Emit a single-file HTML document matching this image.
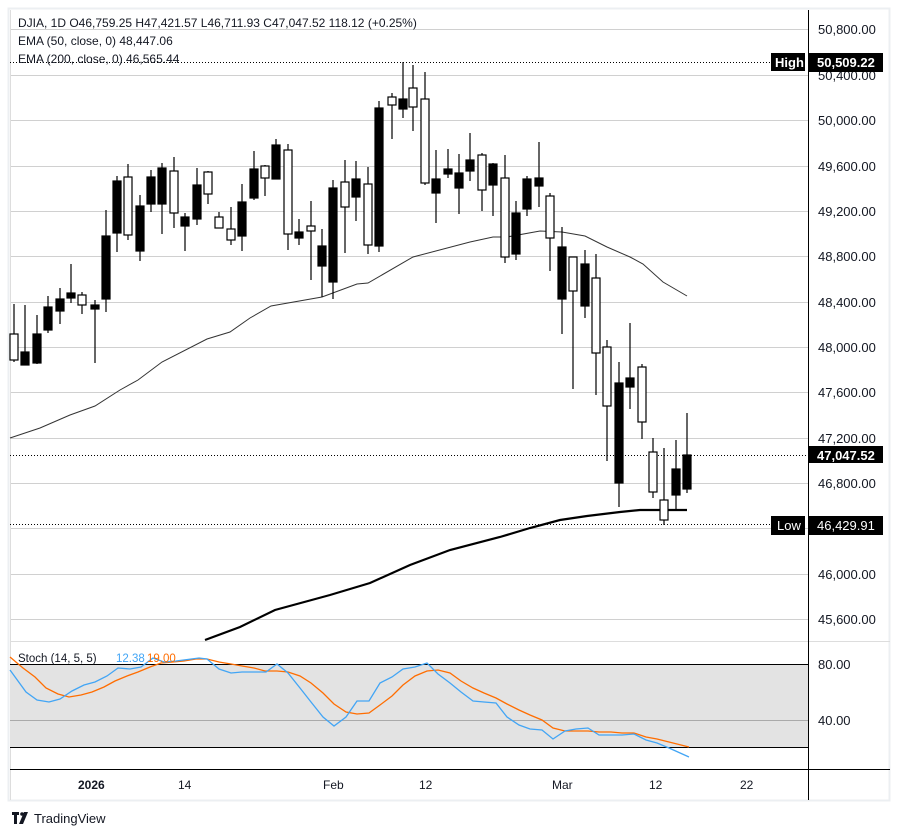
<!DOCTYPE html>
<html><head><meta charset="utf-8"><style>
body{margin:0;background:#fff;}
svg{display:block;font-family:"Liberation Sans",sans-serif;}
</style></head><body>
<svg width="899" height="836" viewBox="0 0 899 836" xmlns="http://www.w3.org/2000/svg">
<rect x="0" y="0" width="899" height="836" fill="#fff"/>
<rect x="8.5" y="8.5" width="881" height="792" fill="none" stroke="#eceff2" stroke-width="2"/>
<g stroke="#d0d0d0" stroke-width="1">
<line x1="10" x2="808" y1="29.5" y2="29.5"/><line x1="10" x2="808" y1="75.5" y2="75.5"/><line x1="10" x2="808" y1="120.5" y2="120.5"/><line x1="10" x2="808" y1="166.5" y2="166.5"/><line x1="10" x2="808" y1="211.5" y2="211.5"/><line x1="10" x2="808" y1="256.5" y2="256.5"/><line x1="10" x2="808" y1="302.5" y2="302.5"/><line x1="10" x2="808" y1="347.5" y2="347.5"/><line x1="10" x2="808" y1="392.5" y2="392.5"/><line x1="10" x2="808" y1="438.5" y2="438.5"/><line x1="10" x2="808" y1="483.5" y2="483.5"/><line x1="10" x2="808" y1="528.5" y2="528.5"/><line x1="10" x2="808" y1="574.5" y2="574.5"/><line x1="10" x2="808" y1="619.5" y2="619.5"/>
</g>
<line x1="10.5" x2="10.5" y1="10" y2="800" stroke="#ddd"/>
<g stroke="#000" stroke-dasharray="1,2" stroke-width="1">
<line x1="10" x2="770" y1="62.5" y2="62.5"/><line x1="10" x2="808" y1="455.5" y2="455.5"/><line x1="10" x2="770" y1="524.5" y2="524.5"/>
</g>
<polyline fill="none" stroke="#333" stroke-width="1" points="10,438 40,428 70,415 95,406 120,390 138,380 162,362 207,339 230,332 250,318 271,306 322,297 357,284 368,283 413,257 470,242 493,237 507,237 540,231 562,232 585,236 607,247 630,257 643,264 663,282 687,296"/>
<polyline fill="none" stroke="#000" stroke-width="2.2" points="205,640 240,627 275,610 330,595 370,583 410,565 450,550 500,537 530,528 560,520 587,516 620,512 640,510 660,510 687,510"/>
<g stroke="#000" stroke-width="1.2">
<line x1="14" x2="14" y1="304" y2="362"/><rect x="10" y="334" width="8" height="26" fill="#fff"/>
<line x1="25" x2="25" y1="305" y2="365"/><rect x="21" y="352" width="8" height="13" fill="#000"/>
<line x1="37" x2="37" y1="315" y2="364"/><rect x="33" y="334" width="8" height="29" fill="#000"/>
<line x1="48" x2="48" y1="296" y2="333"/><rect x="44" y="307" width="8" height="23" fill="#000"/>
<line x1="60" x2="60" y1="288" y2="324"/><rect x="56" y="299" width="8" height="12" fill="#000"/>
<line x1="71" x2="71" y1="264" y2="303"/><rect x="67" y="293" width="8" height="5" fill="#000"/>
<line x1="82" x2="82" y1="292" y2="314"/><rect x="78" y="295" width="8" height="10" fill="#fff"/>
<line x1="95" x2="95" y1="300" y2="363"/><rect x="91" y="305" width="8" height="4" fill="#000"/>
<line x1="106" x2="106" y1="210" y2="312"/><rect x="102" y="236" width="8" height="63" fill="#000"/>
<line x1="117" x2="117" y1="176" y2="252"/><rect x="113" y="181" width="8" height="52" fill="#000"/>
<line x1="128" x2="128" y1="164" y2="240"/><rect x="124" y="177" width="8" height="58" fill="#fff"/>
<line x1="140" x2="140" y1="195" y2="261"/><rect x="136" y="206" width="8" height="45" fill="#000"/>
<line x1="151" x2="151" y1="170" y2="212"/><rect x="147" y="177" width="8" height="27" fill="#000"/>
<line x1="162" x2="162" y1="163" y2="234"/><rect x="158" y="168" width="8" height="36" fill="#000"/>
<line x1="174" x2="174" y1="157" y2="228"/><rect x="170" y="171" width="8" height="42" fill="#fff"/>
<line x1="185" x2="185" y1="213" y2="251"/><rect x="181" y="217" width="8" height="9" fill="#000"/>
<line x1="197" x2="197" y1="168" y2="225"/><rect x="193" y="185" width="8" height="34" fill="#000"/>
<line x1="208" x2="208" y1="171" y2="204"/><rect x="204" y="172" width="8" height="22" fill="#fff"/>
<line x1="219" x2="219" y1="212" y2="228"/><rect x="215" y="217" width="8" height="11" fill="#fff"/>
<line x1="231" x2="231" y1="207" y2="245"/><rect x="227" y="229" width="8" height="11" fill="#fff"/>
<line x1="242" x2="242" y1="184" y2="251"/><rect x="238" y="202" width="8" height="34" fill="#000"/>
<line x1="254" x2="254" y1="151" y2="200"/><rect x="250" y="169" width="8" height="29" fill="#000"/>
<line x1="265" x2="265" y1="165" y2="196"/><rect x="261" y="166" width="8" height="12" fill="#fff"/>
<line x1="276" x2="276" y1="139" y2="179"/><rect x="272" y="145" width="8" height="34" fill="#000"/>
<line x1="288" x2="288" y1="144" y2="250"/><rect x="284" y="150" width="8" height="84" fill="#fff"/>
<line x1="299" x2="299" y1="219" y2="245"/><rect x="295" y="232" width="8" height="6" fill="#000"/>
<line x1="311" x2="311" y1="201" y2="280"/><rect x="307" y="226" width="8" height="5" fill="#fff"/>
<line x1="322" x2="322" y1="229" y2="297"/><rect x="318" y="246" width="8" height="20" fill="#000"/>
<line x1="333" x2="333" y1="180" y2="299"/><rect x="329" y="188" width="8" height="94" fill="#000"/>
<line x1="345" x2="345" y1="160" y2="253"/><rect x="341" y="182" width="8" height="25" fill="#fff"/>
<line x1="356" x2="356" y1="161" y2="221"/><rect x="352" y="179" width="8" height="18" fill="#000"/>
<line x1="368" x2="368" y1="167" y2="254"/><rect x="364" y="184" width="8" height="61" fill="#fff"/>
<line x1="379" x2="379" y1="101" y2="252"/><rect x="375" y="108" width="8" height="138" fill="#000"/>
<line x1="392" x2="392" y1="93" y2="139"/><rect x="388" y="97" width="8" height="8" fill="#fff"/>
<line x1="403" x2="403" y1="62" y2="118"/><rect x="399" y="99" width="8" height="10" fill="#000"/>
<line x1="413" x2="413" y1="65" y2="131"/><rect x="409" y="88" width="8" height="19" fill="#fff"/>
<line x1="425" x2="425" y1="72" y2="185"/><rect x="421" y="99" width="8" height="84" fill="#fff"/>
<line x1="436" x2="436" y1="150" y2="223"/><rect x="432" y="179" width="8" height="14" fill="#000"/>
<line x1="448" x2="448" y1="149" y2="178"/><rect x="444" y="169" width="8" height="5" fill="#000"/>
<line x1="459" x2="459" y1="154" y2="214"/><rect x="455" y="173" width="8" height="15" fill="#000"/>
<line x1="470" x2="470" y1="133" y2="181"/><rect x="466" y="160" width="8" height="11" fill="#000"/>
<line x1="482" x2="482" y1="153" y2="211"/><rect x="478" y="155" width="8" height="35" fill="#fff"/>
<line x1="493" x2="493" y1="163" y2="216"/><rect x="489" y="164" width="8" height="21" fill="#000"/>
<line x1="505" x2="505" y1="155" y2="263"/><rect x="501" y="178" width="8" height="79" fill="#fff"/>
<line x1="516" x2="516" y1="201" y2="260"/><rect x="512" y="213" width="8" height="41" fill="#000"/>
<line x1="527" x2="527" y1="176" y2="216"/><rect x="523" y="179" width="8" height="30" fill="#000"/>
<line x1="539" x2="539" y1="142" y2="207"/><rect x="535" y="178" width="8" height="8" fill="#000"/>
<line x1="550" x2="550" y1="193" y2="271"/><rect x="546" y="196" width="8" height="42" fill="#fff"/>
<line x1="562" x2="562" y1="227" y2="334"/><rect x="558" y="247" width="8" height="52" fill="#000"/>
<line x1="573" x2="573" y1="257" y2="389"/><rect x="569" y="257" width="8" height="34" fill="#fff"/>
<line x1="585" x2="585" y1="250" y2="318"/><rect x="581" y="264" width="8" height="42" fill="#000"/>
<line x1="596" x2="596" y1="254" y2="395"/><rect x="592" y="278" width="8" height="75" fill="#fff"/>
<line x1="607" x2="607" y1="340" y2="461"/><rect x="603" y="347" width="8" height="59" fill="#fff"/>
<line x1="619" x2="619" y1="362" y2="507"/><rect x="615" y="383" width="8" height="100" fill="#000"/>
<line x1="630" x2="630" y1="323" y2="409"/><rect x="626" y="378" width="8" height="9" fill="#000"/>
<line x1="642" x2="642" y1="364" y2="439"/><rect x="638" y="367" width="8" height="55" fill="#fff"/>
<line x1="653" x2="653" y1="438" y2="498"/><rect x="649" y="452" width="8" height="40" fill="#fff"/>
<line x1="664" x2="664" y1="448" y2="525"/><rect x="660" y="500" width="8" height="20" fill="#fff"/>
<line x1="676" x2="676" y1="440" y2="509"/><rect x="672" y="469" width="8" height="26" fill="#000"/>
<line x1="687" x2="687" y1="413" y2="493"/><rect x="683" y="455" width="8" height="34" fill="#000"/>
</g>
<line x1="10" x2="890" y1="641.5" y2="641.5" stroke="#ddd"/>
<rect x="10" y="664" width="798" height="83" fill="#e3e3e3"/>
<line x1="10" x2="808" y1="664.5" y2="664.5" stroke="#000"/>
<line x1="10" x2="808" y1="720.5" y2="720.5" stroke="#aaa"/>
<line x1="10" x2="808" y1="747.5" y2="747.5" stroke="#000"/>
<line x1="10" x2="890" y1="769.5" y2="769.5" stroke="#000"/>
<polyline fill="none" stroke="#ff6d00" stroke-width="1.3" points="10,657 23,668 35,677 46,688 58,694 69,697 81,695 92,692 104,687 115,681 127,676 138,672 150,667 161,663 173,662 184,661 196,659 207,659 219,662 231,664 242,666 254,668 265,671 277,671 288,672 300,676 311,683 323,693 334,704 346,712 357,714 369,713 380,705 392,696 403,685 415,676 427,671 438,670 450,673 461,681 473,688 484,693 496,698 507,704 519,710 530,715 542,720 553,728 565,731 576,731 588,731 599,732 611,732 622,733 634,733 646,737 657,739 669,742 689,747"/>
<polyline fill="none" stroke="#42a5f5" stroke-width="1.3" points="10,670 26,692 37,700 49,702 60,699 72,691 84,685 95,682 107,676 118,668 130,669 141,667 153,658 164,662 176,661 199,658 207,659 219,669 231,673 242,672 254,672 266,672 277,664 288,673 300,688 311,702 323,717 334,726 346,717 357,701 369,701 380,683 392,677 403,669 415,667 427,663 438,674 450,683 461,692 473,701 484,702 496,703 507,717 519,725 530,729 542,730 553,739 565,731 576,729 588,728 599,735 611,735 622,735 634,734 646,740 657,743 669,748 689,757"/>
<text x="18" y="662" font-size="11.5" fill="#131722">Stoch (14, 5, 5)</text>
<text x="116" y="662" font-size="11.5" fill="#42a5f5">12.38</text>
<text x="147" y="662" font-size="11.5" fill="#ff6d00">19.00</text>
<line x1="808.5" x2="808.5" y1="10" y2="800" stroke="#000"/>
<g font-size="13" fill="#131722">
<text x="818" y="34">50,800.00</text><text x="818" y="80">50,400.00</text><text x="818" y="125">50,000.00</text><text x="818" y="171">49,600.00</text><text x="818" y="216">49,200.00</text><text x="818" y="261">48,800.00</text><text x="818" y="307">48,400.00</text><text x="818" y="352">48,000.00</text><text x="818" y="397">47,600.00</text><text x="818" y="443">47,200.00</text><text x="818" y="488">46,800.00</text><text x="818" y="579">46,000.00</text><text x="818" y="624">45,600.00</text>
<text x="818" y="669">80.00</text><text x="818" y="725">40.00</text>
</g>
<rect x="771" y="53" width="34" height="18" fill="#000"/><text x="775" y="67" font-size="13" font-weight="bold" fill="#fff">High</text>
<rect x="809" y="53" width="74" height="19" fill="#000"/><text x="817" y="67" font-size="13" font-weight="bold" fill="#fff">50,509.22</text>
<rect x="809" y="446" width="74" height="17" fill="#000"/><text x="817" y="460" font-size="13" font-weight="bold" fill="#fff">47,047.52</text>
<rect x="771" y="516" width="34" height="19" fill="#000"/><text x="777" y="530" font-size="13" fill="#fff">Low</text>
<rect x="809" y="516" width="74" height="19" fill="#000"/><text x="817" y="530" font-size="13" fill="#fff">46,429.91</text>
<g font-size="12" fill="#131722">
<text x="78" y="789" font-weight="bold">2026</text><text x="178" y="789">14</text><text x="323" y="789">Feb</text><text x="419" y="789">12</text><text x="552" y="789">Mar</text><text x="649" y="789">12</text><text x="740" y="789">22</text>
</g>
<g font-size="12" fill="#131722">
<text x="18" y="27">DJIA, 1D  O46,759.25  H47,421.57  L46,711.93  C47,047.52  118.12 (+0.25%)</text>
<text x="18" y="45">EMA (50, close, 0)  48,447.06</text>
<text x="18" y="63">EMA (200, close, 0)  46,565.44</text>
</g>
<rect x="12" y="812" width="7" height="3" fill="#131722"/><rect x="14" y="812" width="3" height="12" fill="#131722"/>
<circle cx="22" cy="814" r="1.8" fill="#131722"/><polygon points="24,812 28,812 23,824 19,824" fill="#131722"/>
<text x="34" y="823" font-size="13" fill="#131722">TradingView</text>
</svg>
</body></html>
